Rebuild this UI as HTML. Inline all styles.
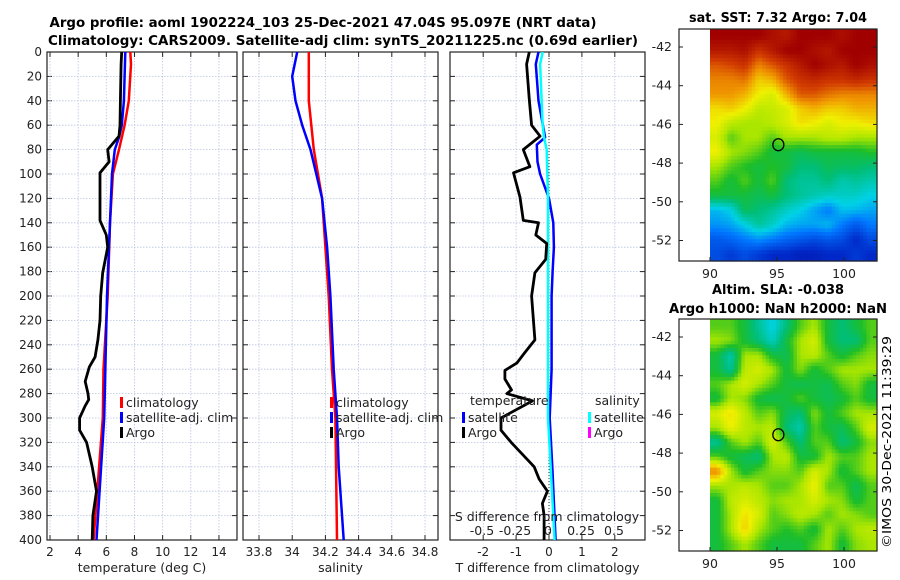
<!DOCTYPE html>
<html><head><meta charset="utf-8"><style>
html,body{margin:0;padding:0;background:#fff}
svg{display:block;font-family:"DejaVu Sans","Liberation Sans",sans-serif}
</style></head><body>
<svg id="fig" width="900" height="580" viewBox="0 0 900 580">
<text x="323" y="27" font-size="13" font-weight="bold" text-anchor="middle" textLength="547" lengthAdjust="spacingAndGlyphs">Argo profile: aoml 1902224_103 25-Dec-2021 47.04S 95.097E (NRT data)</text>
<text x="343" y="45" font-size="13" font-weight="bold" text-anchor="middle" textLength="590" lengthAdjust="spacingAndGlyphs">Climatology: CARS2009. Satellite-adj clim: synTS_20211225.nc (0.69d earlier)</text>
<text x="778" y="22" font-size="13" font-weight="bold" text-anchor="middle" textLength="178" lengthAdjust="spacingAndGlyphs">sat. SST: 7.32 Argo: 7.04</text>
<text x="778" y="294" font-size="13" font-weight="bold" text-anchor="middle" textLength="132" lengthAdjust="spacingAndGlyphs">Altim. SLA: -0.038</text>
<text x="778" y="313" font-size="13" font-weight="bold" text-anchor="middle" textLength="218" lengthAdjust="spacingAndGlyphs">Argo h1000: NaN h2000: NaN</text>
<text transform="translate(891,548) rotate(-90)" font-size="12" textLength="212" lengthAdjust="spacingAndGlyphs">©IMOS 30-Dec-2021 11:39:29</text>
<g id="layer"></g>
</svg>
<script>
// ---------- profile data ----------
const depthTicks = [0,20,40,60,80,100,120,140,160,180,200,220,240,260,280,300,320,340,360,380,400];
const tempTicks = [2,4,6,8,10,12,14];
const salTicks = [33.8,34,34.2,34.4,34.6,34.8];
const salTickLabels = ["33.8","34","34.2","34.4","34.6","34.8"];
const tdiffTicks = [-2,-1,0,1,2];
const sdiffTicks = [-0.5,-0.25,0,0.25,0.5];
const sdiffTickLabels = ["-0.5","-0.25","0","0.25","0.5"];

const argoTempDepth = [0,10,40,60,69,80,90,99,120,138,150,160,181,200,220,236,250,258,270,280,285,290,300,310,320,340,360,380,400];
const argoTemp =      [7.09,7.05,7.0,6.97,6.9,6.1,6.2,5.55,5.55,5.55,6.0,6.1,5.74,5.6,5.55,5.4,5.2,4.8,4.5,4.7,4.75,4.5,4.1,4.1,4.6,5.0,5.3,5.05,5.0];
const climTempDepth = [0,10,40,60,80,100,140,200,260,300,400];
const climTemp =      [7.7,7.75,7.6,7.3,6.9,6.47,6.26,6.1,5.8,5.75,5.1];
const satTempDepth =  [0,40,60,70,80,100,200,300,400];
const satTemp =       [7.35,7.25,7.1,6.9,6.6,6.4,6.05,5.85,5.3];

const climSalDepth = [0,40,80,120,160,200,260,300,400];
const climSal =      [34.1,34.1,34.13,34.18,34.2,34.22,34.24,34.26,34.27];
const satSalDepth =  [0,20,40,60,80,120,160,200,260,300,340,400];
const satSal =       [34.03,34.0,34.02,34.06,34.11,34.18,34.21,34.23,34.25,34.27,34.28,34.31];

const argoTdDepth = [0,10,39,60,69,80,94,99,119,138,140,150,157,170,181,200,236,247,255,261,268,277,280,286,300,310,320,340,350,360,370,380,400];
const argoTd =      [-0.6,-0.68,-0.6,-0.53,-0.27,-0.78,-0.58,-1.08,-0.88,-0.78,-0.32,-0.4,-0.07,-0.1,-0.43,-0.53,-0.43,-0.75,-0.98,-1.34,-1.34,-1.14,-1.28,-0.5,-1.46,-1.46,-1.15,-0.45,-0.3,-0.05,-0.2,-0.15,-0.15];
const satTdDepth =  [0,10,40,70,76,90,100,120,140,160,180,200,260,300,340,400];
const satTd =       [-0.32,-0.4,-0.32,-0.12,-0.37,-0.35,-0.27,0.0,0.13,0.15,0.11,0.08,0.08,0.02,0.1,0.2];
const satSdDepth =  [0,10,60,70,80,120,200,300,400];
const satSd =       [-0.04,-0.06,-0.04,-0.03,-0.01,0.0,0.0,0.0,0.05];

// ---------- map data ----------
const mapLonTicks = [90,95,100];
const mapLatTicks = [-42,-44,-46,-48,-50,-52];
const argoLon = [95.1];
const argoLat = [-47.05];
const sstGrid = [
[1,1,1,1,.97,.95,1,1,1,.97,1,1],
[.95,.95,.97,.9,.95,1,1,.97,.95,1,1,1],
[.85,.87,.9,.8,.85,.9,.95,1,.97,.95,1,.97],
[.8,.8,.82,.72,.75,.85,.9,.92,.9,.9,.92,.9],
[.78,.78,.75,.68,.65,.75,.85,.85,.82,.8,.8,.8],
[.7,.72,.68,.62,.63,.65,.72,.75,.72,.72,.75,.75],
[.68,.62,.6,.6,.62,.65,.7,.68,.65,.68,.68,.7],
[.65,.55,.6,.6,.55,.6,.6,.6,.62,.62,.6,.6],
[.68,.6,.58,.55,.5,.5,.48,.5,.5,.5,.5,.52],
[.6,.55,.52,.5,.52,.5,.45,.45,.48,.47,.47,.45],
[.55,.5,.55,.5,.55,.45,.42,.42,.45,.4,.42,.4],
[.5,.5,.5,.48,.5,.45,.42,.4,.38,.38,.38,.35],
[.32,.35,.48,.45,.42,.38,.35,.3,.25,.33,.32,.3],
[.28,.3,.35,.42,.38,.32,.3,.3,.32,.25,.2,.25],
[.2,.22,.25,.28,.25,.22,.2,.18,.2,.18,.12,.18],
[.18,.15,.18,.15,.12,.12,.1,.1,.12,.12,.15,.12]];
const slaGrid = [
[.55,.55,.5,.42,.35,.45,.55,.6,.5,.45,.5,.55],
[.6,.58,.5,.45,.38,.5,.6,.65,.5,.45,.45,.55],
[.5,.4,.6,.6,.5,.48,.6,.62,.55,.5,.55,.58],
[.5,.42,.62,.65,.6,.5,.58,.5,.55,.6,.6,.6],
[.55,.6,.65,.6,.55,.5,.48,.5,.48,.55,.58,.5],
[.5,.6,.58,.5,.48,.5,.55,.5,.48,.5,.55,.5],
[.65,.7,.62,.55,.58,.48,.45,.58,.5,.55,.6,.6],
[.6,.68,.62,.6,.62,.45,.4,.55,.5,.48,.55,.65],
[.42,.55,.6,.55,.65,.55,.45,.55,.55,.45,.5,.58],
[.55,.5,.48,.45,.6,.62,.5,.5,.6,.55,.55,.6],
[.8,.6,.5,.55,.58,.58,.55,.65,.6,.5,.55,.6],
[.6,.6,.62,.6,.55,.55,.6,.68,.55,.55,.48,.55],
[.5,.62,.65,.62,.58,.6,.6,.65,.6,.58,.5,.55],
[.5,.6,.7,.65,.55,.58,.62,.6,.55,.6,.58,.55],
[.5,.6,.72,.6,.55,.52,.55,.5,.6,.55,.6,.62],
[.5,.55,.6,.55,.5,.5,.5,.55,.6,.5,.58,.6]];

const NS = "http://www.w3.org/2000/svg";
const layer = document.getElementById('layer');
function mk(tag, attrs, parent){const e=document.createElementNS(NS,tag);for(const k in attrs)e.setAttribute(k,attrs[k]);(parent||layer).appendChild(e);return e;}

const Y0=52, Y1=540;
const yDepth = d => Y0 + (d/400)*(Y1-Y0);
const xTemp = t => 50 + (t-2)*14.08;
const xSal = s => 259 + (s-33.8)*166;
const xTd = d => 549 + d*32.9;
const xSd = d => 548 + d*132;

function panel(x0,x1,name,xticks,xlabels,xfun,xtitle,showY){
  const g = mk('g',{});
  
  
  depthTicks.forEach(d=>{
    const l=mk('line',{x1:x0,x2:x1,y1:yDepth(d),y2:yDepth(d),stroke:'#b8c4e0','stroke-width':0.8,'stroke-dasharray':'1.5,1.5'},g);
    
    
    mk('line',{x1:x0,x2:x0+5,y1:yDepth(d),y2:yDepth(d),stroke:'#222'},g);
    mk('line',{x1:x1-5,x2:x1,y1:yDepth(d),y2:yDepth(d),stroke:'#222'},g);
    if(showY){
      const t=mk('text',{x:x0-5,y:yDepth(d)+4,'font-size':12,'text-anchor':'end',fill:'#222'},g);
      t.textContent=d;
      
      
    }
  });
  xticks.forEach((v,i)=>{
    const l=mk('line',{x1:xfun(v),x2:xfun(v),y1:Y0,y2:Y1,stroke:'#b8c4e0','stroke-width':0.8,'stroke-dasharray':'1.5,1.5'},g);
    
    
    mk('line',{x1:xfun(v),x2:xfun(v),y1:Y1-5,y2:Y1,stroke:'#222'},g);
    mk('line',{x1:xfun(v),x2:xfun(v),y1:Y0,y2:Y0+5,stroke:'#222'},g);
    const t=mk('text',{x:xfun(v),y:556,'font-size':12,'text-anchor':'middle',fill:'#222'},g);
    t.textContent=xlabels[i];
    
    
  });
  const r=mk('rect',{x:x0,y:Y0,width:x1-x0,height:Y1-Y0,fill:'none',stroke:'#222','stroke-width':1.2},g);
  
  
  const xt=mk('text',{x:(x0+x1)/2,y:572,'font-size':12.5,'text-anchor':'middle',fill:'#222'},g);
  xt.textContent=xtitle;
  
  
  return g;
}
function series(g,depths,vals,xfun,color,w,name){
  const pts=depths.map((d,i)=>xfun(vals[i]).toFixed(1)+','+yDepth(d).toFixed(1)).join(' ');
  const p=mk('polyline',{points:pts,fill:'none',stroke:color,'stroke-width':w,'stroke-linejoin':'round'},g);
  
  
}
function legend(g,x,y,color,label){
  const b=mk('rect',{x:x,y:y-9,width:3,height:11,fill:color},g);
  
  
  const t=mk('text',{x:x+6,y:y+1,'font-size':12.5,fill:'#222'},g);
  t.textContent=label;
  
  
}

const g1=panel(47,237,'temperature-panel',tempTicks,tempTicks.map(String),xTemp,'temperature (deg C)',true);
series(g1,climTempDepth,climTemp,xTemp,'#f00',2.5,'climatology-temp-line');
series(g1,satTempDepth,satTemp,xTemp,'#00f',2.5,'satellite-temp-line');
series(g1,argoTempDepth,argoTemp,xTemp,'#000',2.8,'argo-temp-line');
legend(g1,120,406,'#f00','climatology');
legend(g1,120,421,'#00f','satellite-adj. clim');
legend(g1,120,436,'#000','Argo');

const g2=panel(243,438,'salinity-panel',salTicks,salTickLabels,xSal,'salinity',false);
series(g2,climSalDepth,climSal,xSal,'#f00',2.5,'climatology-sal-line');
series(g2,satSalDepth,satSal,xSal,'#00f',2.5,'satellite-sal-line');
legend(g2,330,406,'#f00','climatology');
legend(g2,330,421,'#00f','satellite-adj. clim');
legend(g2,330,436,'#000','Argo');

const g3=panel(450,645,'difference-panel',tdiffTicks,tdiffTicks.map(String),xTd,'T difference from climatology',false);
const zl=mk('line',{x1:xTd(0),x2:xTd(0),y1:Y0,y2:Y1,stroke:'#333','stroke-width':1,'stroke-dasharray':'1,2'},g3);


series(g3,satTdDepth,satTd,xTd,'#00f',2.5,'satellite-tdiff-line');
series(g3,satSdDepth,satSd,xSd,'#0ff',2.5,'satellite-sdiff-line');
series(g3,argoTdDepth,argoTd,xTd,'#000',2.8,'argo-tdiff-line');
const tl=mk('text',{x:470,y:405,'font-size':12.5,fill:'#222'},g3);tl.textContent='temperature';


const sl=mk('text',{x:595,y:405,'font-size':12.5,fill:'#222'},g3);sl.textContent='salinity';


legend(g3,462,421,'#00f','satellite');
legend(g3,462,436,'#000','Argo');
legend(g3,588,421,'#0ff','satellite');
legend(g3,588,436,'#f0f','Argo');
const st=mk('text',{x:547,y:521,'font-size':12.5,'text-anchor':'middle',fill:'#222'},g3);st.textContent='S difference from climatology';


sdiffTicks.forEach((v,i)=>{
  const t=mk('text',{x:xSd(v),y:535,'font-size':12.5,'text-anchor':'middle',fill:'#222'},g3);
  t.textContent=sdiffTickLabels[i];
  
  
});

function cmap(v){
  const st=[[0,0,0,140],[.12,0,40,200],[.25,0,120,255],[.35,0,210,230],[.45,0,190,120],[.52,30,190,40],[.6,170,230,0],[.68,240,240,0],[.78,240,150,0],[.88,210,60,0],[1,160,0,0]];
  v=Math.max(0,Math.min(1,v));
  for(let i=1;i<st.length;i++){if(v<=st[i][0]){const a=st[i-1],b=st[i],f=(v-a[0])/(b[0]-a[0]);
    return 'rgb('+[1,2,3].map(k=>Math.round(a[k]+(b[k]-a[k])*f)).join(',')+')';}}
  return 'rgb(160,0,0)';
}
function sample(grid,fr,fc){
  const rows=grid.length, cols=grid[0].length;
  fr=Math.max(0,Math.min(rows-1,fr)); fc=Math.max(0,Math.min(cols-1,fc));
  const r0=Math.floor(fr), c0=Math.floor(fc), r1=Math.min(rows-1,r0+1), c1=Math.min(cols-1,c0+1);
  const a=fr-r0, b=fc-c0;
  return (grid[r0][c0]*(1-b)+grid[r0][c1]*b)*(1-a)+(grid[r1][c0]*(1-b)+grid[r1][c1]*b)*a;
}
function mapPanel(name,grid,bx0,by0,bx1,by1,latTop){
  const g=mk('g',{});
  
  
  const xLon=lon=>710+(lon-90)*13.4;
  const yLat=lat=>latTop+(-42-lat)*19.35;
  const rows=grid.length, cols=grid[0].length, S=4;
  const dx0=710, cw=(bx1-dx0)/(cols*S), ch=(by1-by0)/(rows*S);
  for(let r=0;r<rows*S;r++)for(let c=0;c<cols*S;c++){
    const v=sample(grid,(r+0.5)/S-0.5,(c+0.5)/S-0.5);
    const cell=mk('rect',{x:(dx0+c*cw).toFixed(2),y:(by0+r*ch).toFixed(2),width:(cw+0.6).toFixed(2),height:(ch+0.6).toFixed(2),fill:cmap(v)},g);
    
    
  }
  mk('rect',{x:bx0,y:by0,width:bx1-bx0,height:by1-by0,fill:'none',stroke:'#222','stroke-width':1.2},g);
  mapLonTicks.forEach(l=>{
    mk('line',{x1:xLon(l),x2:xLon(l),y1:by1-4,y2:by1,stroke:'#222'},g);
    const t=mk('text',{x:xLon(l),y:by1+17,'font-size':12.5,'text-anchor':'middle',fill:'#222'},g);
    t.textContent=l;
    
    
  });
  mapLatTicks.forEach(l=>{
    mk('line',{x1:bx0,x2:bx0+4,y1:yLat(l),y2:yLat(l),stroke:'#222'},g);
    mk('line',{x1:bx1-4,x2:bx1,y1:yLat(l),y2:yLat(l),stroke:'#222'},g);
    const t=mk('text',{x:bx0-7,y:yLat(l)+4,'font-size':12.5,'text-anchor':'end',fill:'#222'},g);
    t.textContent=l;
    
    
  });
  argoLon.forEach((lon,i)=>{
    const m=mk('ellipse',{cx:xLon(lon),cy:yLat(argoLat[i]),rx:5.5,ry:6,fill:'none',stroke:'#000','stroke-width':1.3},g);
    
    
  });
}
mapPanel('sst-map',sstGrid,679,29,877,261,47);
mapPanel('sla-map',slaGrid,679,319,877,551,337);
</script>
</body></html>
